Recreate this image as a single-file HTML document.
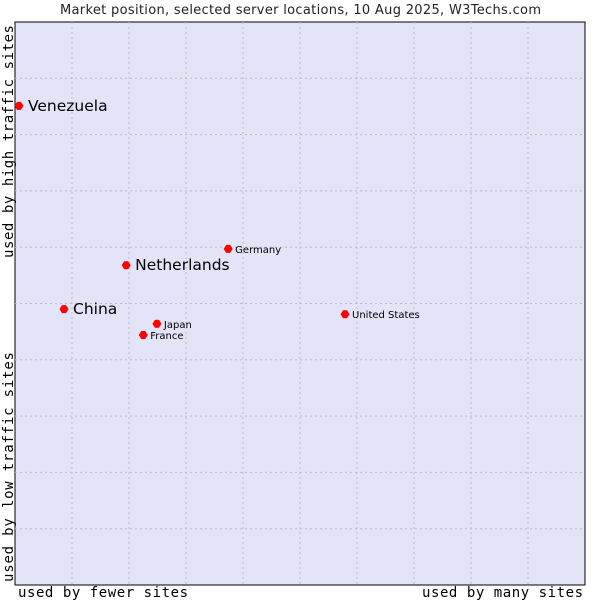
<!DOCTYPE html>
<html><head><meta charset="utf-8"><style>
body{margin:0;background:#fff;width:600px;height:600px;overflow:hidden}
svg{display:block}
</style></head><body>
<svg id="c" width="600" height="600" xmlns="http://www.w3.org/2000/svg">
<text x="60" y="14" textLength="481" font-family="DejaVu Sans, sans-serif" font-size="13" fill="#222">Market position, selected server locations, 10 Aug 2025, W3Techs.com</text>
<rect x="15" y="22" width="570" height="563" fill="#e3e4f8" stroke="#000" stroke-width="1"/>
<g id="grid"></g>
<g id="pts"></g>
<text x="18" y="597" textLength="170" font-family="DejaVu Sans Mono, monospace" font-size="14" fill="#000">used by fewer sites</text>
<text x="422" y="597" textLength="161" font-family="DejaVu Sans Mono, monospace" font-size="14" fill="#000">used by many sites</text>
<text transform="translate(13,582) rotate(-90)" textLength="230" font-family="DejaVu Sans Mono, monospace" font-size="14" fill="#000">used by low traffic sites</text>
<text transform="translate(13,258) rotate(-90)" textLength="233" font-family="DejaVu Sans Mono, monospace" font-size="14" fill="#000">used by high traffic sites</text>
</svg>
<script>
const names=["Venezuela","Netherlands","China","Germany","Japan","France","United States"];
const xs=[0.7,19.5,8.6,37.4,24.9,22.5,57.9];
const ys=[85.1,56.8,49.0,59.7,46.4,44.4,48.1];
const big=[true,true,true,false,false,false,false];
const gridVals=[10,20,30,40,50,60,70,80,90];
const L=15,T=22,W=570,H=563;
const sx=v=>L+v/100*W, sy=v=>T+H-v/100*H;
const NS="http://www.w3.org/2000/svg";
const g=document.getElementById('grid'), p=document.getElementById('pts');
gridVals.forEach(v=>{
 let a=document.createElementNS(NS,'line');
 a.setAttribute('x1',sx(v));a.setAttribute('x2',sx(v));a.setAttribute('y1',T);a.setAttribute('y2',T+H);
 a.setAttribute('stroke','#bbbbbb');a.setAttribute('stroke-dasharray','2,3');
 
 
 g.appendChild(a);
 let b=document.createElementNS(NS,'line');
 b.setAttribute('x1',L);b.setAttribute('x2',L+W);b.setAttribute('y1',sy(v));b.setAttribute('y2',sy(v));
 b.setAttribute('stroke','#bbbbbb');b.setAttribute('stroke-dasharray','2,3');
 
 
 g.appendChild(b);
});
names.forEach((n,i)=>{
 const x=sx(xs[i]),y=sy(ys[i]);
 let d=document.createElementNS(NS,'polygon');
 d.setAttribute('points',`${x-4.5},${y} ${x-2},${y-4} ${x+2},${y-4} ${x+4.5},${y} ${x+2},${y+4} ${x-2},${y+4}`);
 d.setAttribute('fill','#f00');
 
 
 p.appendChild(d);
 let t=document.createElementNS(NS,'text');
 t.setAttribute('x',x+(big[i]?9:7));t.setAttribute('y',y+(big[i]?5:4));
 t.setAttribute('font-family','DejaVu Sans, sans-serif');
 t.setAttribute('font-size',big[i]?'15.5':'10');t.setAttribute('fill','#000');
 t.textContent=n;
 
 
 p.appendChild(t);
});
</script>
</body></html>
